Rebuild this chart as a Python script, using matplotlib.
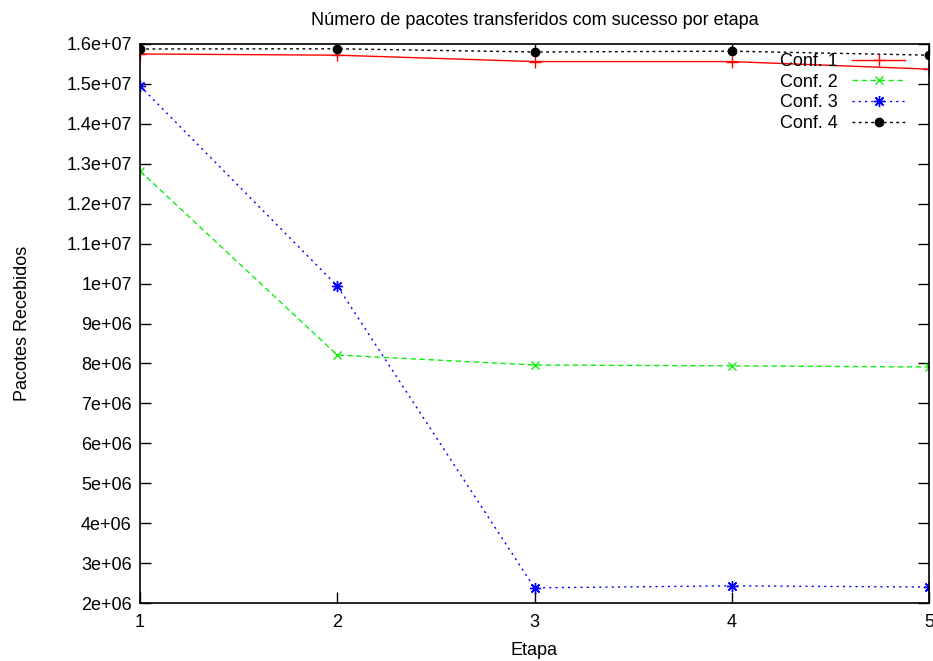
import numpy as np
import matplotlib.pyplot as plt
from matplotlib.ticker import FuncFormatter

plt.rcParams['font.family'] = ['Liberation Sans', 'DejaVu Sans']

etapa = [1, 2, 3, 4, 5]
conf1 = [1.575e7, 1.572e7, 1.556e7, 1.556e7, 1.537e7]
conf2 = [1.282e7, 8.21e6, 7.96e6, 7.94e6, 7.91e6]
conf3 = [1.495e7, 9.94e6, 2.38e6, 2.43e6, 2.40e6]
conf4 = [1.5875e7, 1.588e7, 1.580e7, 1.582e7, 1.572e7]
labels = ['Conf. 1', 'Conf. 2', 'Conf. 3', 'Conf. 4']

fig = plt.figure(figsize=(9.33, 6.61), dpi=100, facecolor='white')
ax = fig.add_axes([140/933, 1 - 603/661, (929-140)/933, (603-44)/661])

ax.plot(etapa, conf1, color='#ff0000', lw=1, ls='-', marker='+', ms=8, mew=1, label=labels[0])
ax.plot(etapa, conf2, color='#10ee10', lw=1, ls=(0, (4, 2.5)), marker='x', ms=6, mew=1, label=labels[1])
ax.plot(etapa, conf3, color='#0000ff', lw=1, ls=(0, (1.5, 3)), marker=(8, 2, 0), ms=8, mew=1, label=labels[2])
ax.plot(etapa, conf4, color='black', lw=1, ls=(0, (2, 2.5)), marker='o', ms=6, label=labels[3])

ax.set_xlim(1, 5)
ax.set_ylim(2e6, 1.6e7)
ax.set_xticks(etapa)
ax.set_yticks(np.arange(2e6, 1.61e7, 1e6))
ax.yaxis.set_major_formatter(FuncFormatter(lambda v, p: '%g' % v))
ax.tick_params(direction='in', length=8, width=1, top=True, right=True,
               labelsize=13, pad=8)
ax.tick_params(axis='y', pad=6)
for s in ax.spines.values():
    s.set_linewidth(1.2)

ax.set_title('Número de pacotes transferidos com sucesso por etapa', fontsize=13, pad=14)
ax.set_xlabel('Etapa', fontsize=13, labelpad=8)
ax.set_ylabel('Pacotes Recebidos', fontsize=13, labelpad=25)

ax.legend(loc='upper right', bbox_to_anchor=(0.983, 1.003), frameon=False, markerfirst=False,
          fontsize=13, handlelength=2.9, labelspacing=0.2, handletextpad=0.8,
          borderaxespad=0.2)

plt.savefig('out.png', dpi=100)
